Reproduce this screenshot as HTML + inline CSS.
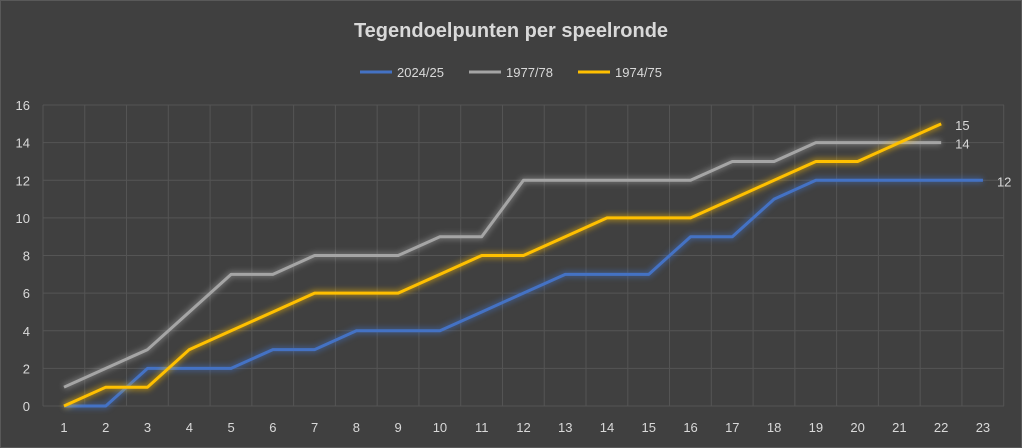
<!DOCTYPE html>
<html><head><meta charset="utf-8"><style>
html,body{margin:0;padding:0;background:#404040;}
svg{display:block;font-family:"Liberation Sans",sans-serif;}
</style></head><body>
<svg width="1022" height="448" viewBox="0 0 1022 448" xmlns="http://www.w3.org/2000/svg">
<defs>
<filter id="glow" x="-5%" y="-5%" width="110%" height="110%"><feGaussianBlur stdDeviation="3"/></filter>
</defs>
<rect x="0.5" y="0.5" width="1021" height="447" fill="#404040" stroke="#595959"/>
<text x="511" y="37" text-anchor="middle" font-size="20" font-weight="bold" fill="#d9d9d9">Tegendoelpunten per speelronde</text>
<g font-size="13" fill="#d9d9d9">
<line x1="360" y1="72" x2="392" y2="72" stroke="#4472c4" stroke-width="3"/><text x="397" y="77">2024/25</text>
<line x1="469" y1="72" x2="501" y2="72" stroke="#a5a5a5" stroke-width="3"/><text x="506" y="77">1977/78</text>
<line x1="578" y1="72" x2="610" y2="72" stroke="#ffc000" stroke-width="3"/><text x="615" y="77">1974/75</text>
</g>
<g id="grid" stroke="#555" stroke-width="1"></g>
<g id="labels" font-size="13" fill="#d9d9d9"></g>
<g id="series"></g>
<script>
var ns="http://www.w3.org/2000/svg";
function X(i){return 64+(i-1)*41.77;}
function Y(v){return 406-v*18.81;}
var g=document.getElementById('grid'),l=document.getElementById('labels'),s=document.getElementById('series');
function el(t,a,p){var e=document.createElementNS(ns,t);for(var k in a)e.setAttribute(k,a[k]);p.appendChild(e);return e;}
for(var v=0;v<=16;v+=2){el('line',{x1:43,x2:1004,y1:Y(v),y2:Y(v)},g);var t=el('text',{x:30,y:Y(v)+5,'text-anchor':'end'},l);t.textContent=v;}
for(var k=0;k<=23;k++){var x=43+k*41.77;el('line',{x1:x,x2:x,y1:Y(16),y2:Y(0)},g);}
for(var i=1;i<=23;i++){var t=el('text',{x:X(i),y:432,'text-anchor':'middle'},l);t.textContent=i;}
var data=[
["#a5a5a5",[1,2,3,5,7,7,8,8,8,9,9,12,12,12,12,12,13,13,14,14,14,14],"14"],
["#4472c4",[0,0,2,2,2,3,3,4,4,4,5,6,7,7,7,9,9,11,12,12,12,12,12],"12"],
["#ffc000",[0,1,1,3,4,5,6,6,6,7,8,8,9,10,10,10,11,12,13,13,14,15],"15"]];
data.forEach(function(d){var pts=d[1].map(function(v,i){return X(i+1)+','+Y(v)}).join(' ');
el('polyline',{points:pts,fill:'none',stroke:d[0],'stroke-width':6,opacity:0.5,filter:'url(#glow)'},s);
el('polyline',{points:pts,fill:'none',stroke:d[0],'stroke-width':3,'stroke-linejoin':'round'},s);
var n=d[1].length;var t=el('text',{x:X(n)+14,y:Y(d[1][n-1])+6,'font-size':13,fill:'#d9d9d9'},s);t.textContent=d[2];});
</script>
</svg>
</body></html>
